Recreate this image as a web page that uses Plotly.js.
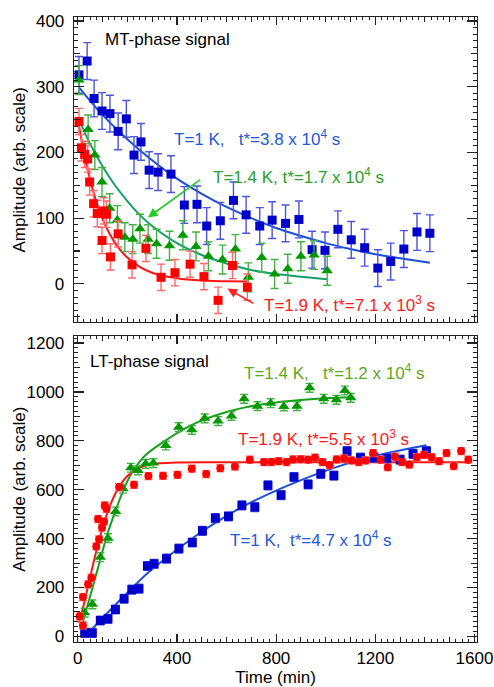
<!DOCTYPE html>
<html>
<head>
<meta charset="utf-8">
<script src="https://cdn.plot.ly/plotly-3.0.1.min.js"></script>
<style>html,body{margin:0;padding:0;background:#fff;}#chart{width:494px;height:687px;}</style>
</head>
<body>
<div id="chart"></div>
<script>
// ---------- DATA ----------
// Top panel: MT-phase signal (time in min, amplitude arb.)
const mtBlueT = [5,38,66,98,130,163,196,227,255,288,324,376,430,481,520,575,628,679,734,784,838,892,945,997,1049,1103,1157,1210,1262,1315,1368,1420];
const mtBlueA = [318,339,282,263,259,232,251,196,216,173,170,167,120,121,88,96,127,105,88,97,92,98,52,51,83,67,55,24,34,53,79,77];
const mtGreenT = [5,42,69,98,129,160,190,222,251,284,318,370,424,477,527,584,636,688,742,794,847,900,953,1006];
const mtGreenA = [310,235,196,155,115,97,71,68,84,68,61,58,74,57,42,37,53,10,40,15,23,42,44,20];
const mtRedT = [5,15,28,40,48,64,79,98,105,116,132,163,219,275,336,392,453,509,566,624,684];
const mtRedA = [247,207,197,190,155,122,107,66,111,106,41,76,29,54,10,17,30,11,-25,28,-5];

// Fit curves (top), sampled from the drawn lines
const mtBlueFitT = [5,100,200,300,400,500,600,700,800,900,1000,1100,1200,1300,1420];
const mtBlueFitA = [299,257,220,188,160,137,117,100,85,73,62,53,45,39,32];
const mtGreenFitT = [5,50,100,150,200,250,300,400,500,600,700,800,900,1006];
const mtGreenFitA = [250,213,179,150,126,105,88,62,44,31,21,15,11,7];
const mtRedFitT = [5,25,50,75,100,130,160,200,250,300,400,500,600,684];
const mtRedFitA = [241,200,158,125,99,75,57,40,26,17,8.5,5,4,3.5];

// Bottom panel: LT-phase signal
const ltBlueT = [28,59,91,122,152,187,218,247,281,308,358,408,462,503,555,608,662,714,767,820,872,929,980,1033,1086,1140,1195,1247,1300,1352,1406];
const ltBlueA = [14,14,65,72,110,154,191,195,288,297,318,359,384,432,484,491,536,529,618,578,652,622,665,658,758,731,731,729,723,747,758];
const ltGreenT = [28,59,91,122,153,183,214,243,274,305,355,407,460,512,566,620,671,725,778,831,884,935,992,1043,1077,1101];
const ltGreenA = [97,131,324,402,511,604,690,679,706,709,781,856,845,892,881,902,972,942,954,941,942,1017,972,968,1006,976];
const ltRedT = [8,21,21,42,55,75,82,86,98,106,109,116,167,227,285,344,402,460,518,575,634,694,751,781,810,842,868,899,929,957,987,1016,1044,1074,1104,1133,1161,1191,1221,1250,1279,1308,1337,1367,1396,1427,1457,1487,1516,1546,1575];
const ltRedA = [82,45,161,213,240,368,480,397,445,470,536,522,611,620,656,657,661,686,664,688,695,723,713,713,717,713,724,725,723,731,713,701,724,728,720,713,720,750,723,692,735,713,703,733,743,733,717,750,697,758,723];

// Fit curves (bottom)
const ltBlueFitT = [45,100,187,281,358,503,653,868,1083,1250,1406];
const ltBlueFitA = [15,75,165,258,322,430,524,626,706,750,782];
const ltGreenFitT = [20,28,60,91,120,153,183,214,250,277,355,450,512,600,675,800,900,1000,1100];
const ltGreenFitA = [55,85,200,315,420,515,595,662,715,745,802,860,888,918,937,957,967,974,978];
const ltRedFitT = [5,20,40,60,80,100,130,160,200,250,300,400,600,1000,1580];
const ltRedFitA = [56,112,198,286,369,443,534,600,656,691,705,711,712,712,712];

// Error bar half-widths
const errMtBlue = 28, errMtGreen = 22, errMtRed = 20;
const errLtBlue = 18, errLtGreen = 18, errLtRed = 14;

// Tick labels
const xTickVals = [0,400,800,1200,1600];
const xTickLabels = ['0','400','800','1200','1600'];

// ---------- STYLE ----------
const FONT = 'Liberation Sans, Arial, Helvetica, sans-serif';
const C = {
  blueM:'#0000cc', blueE:'#4a55dc', blueL:'#1a4fd8', blueT:'#2458dc',
  greenM:'#009a00', greenE:'#45b045', greenLTop:'#14a06a', greenLBot:'#18a018', greenTTop:'#2c9e2c', greenTBot:'#5ea81c',
  redM:'#ff0000', redE:'#ff6a6a', redL:'#ff1414', redT:'#ff1a1a'
};

function fit(x,y,xa,ya,color){
  return {x:x,y:y,xaxis:xa,yaxis:ya,mode:'lines',line:{color:color,width:2,shape:'spline',smoothing:1},hoverinfo:'skip',showlegend:false};
}
function pts(x,y,xa,ya,sym,size,mc,ec,err){
  return {x:x,y:y,xaxis:xa,yaxis:ya,mode:'markers',marker:{symbol:sym,size:size,color:mc},
    error_y:{type:'constant',value:err,color:ec,thickness:1.4,width:4},showlegend:false};
}
function dummy(xa,ya){return {x:[0],y:[0],xaxis:xa,yaxis:ya,mode:'markers',marker:{opacity:0,size:1},hoverinfo:'skip',showlegend:false};}

const data = [
  fit(mtBlueFitT,mtBlueFitA,'x','y',C.blueL),
  fit(mtGreenFitT,mtGreenFitA,'x','y',C.greenLTop),
  fit(mtRedFitT,mtRedFitA,'x','y',C.redL),
  pts(mtBlueT,mtBlueA,'x','y','square',9,C.blueM,C.blueE,errMtBlue),
  pts(mtGreenT,mtGreenA,'x','y','triangle-up',10,C.greenM,C.greenE,errMtGreen),
  pts(mtRedT,mtRedA,'x','y','square',9,C.redM,C.redE,errMtRed),
  fit(ltBlueFitT,ltBlueFitA,'x2','y2',C.blueL),
  fit(ltGreenFitT,ltGreenFitA,'x2','y2',C.greenLBot),
  fit(ltRedFitT,ltRedFitA,'x2','y2',C.redL),
  pts(ltBlueT,ltBlueA,'x2','y2','square',9,C.blueM,C.blueE,errLtBlue),
  pts(ltGreenT,ltGreenA,'x2','y2','triangle-up',10,C.greenM,C.greenE,errLtGreen),
  pts(ltRedT,ltRedA,'x2','y2','circle',8,C.redM,C.redE,errLtRed),
  dummy('x3','y'), dummy('x','y3'), dummy('x4','y2'), dummy('x2','y4')
];

const AX = '#222';
const XR = [-15,1610];
function xax(extra){
  return Object.assign({range:XR,showline:true,linecolor:AX,linewidth:1.3,mirror:'ticks',ticks:'inside',
    ticklen:8,tickwidth:1.2,tickcolor:AX,tick0:0,dtick:400,showgrid:false,zeroline:false,
    minor:{dtick:25,tick0:0,ticks:'inside',ticklen:3,tickcolor:AX,tickwidth:1,showgrid:false},
    tickfont:{family:FONT,size:17,color:'#000'}},extra);
}
function yax(extra){
  return Object.assign({showline:true,linecolor:AX,linewidth:1.3,mirror:'ticks',ticks:'inside',
    ticklen:10,tickwidth:1.2,tickcolor:AX,showgrid:false,zeroline:false,
    tickfont:{family:FONT,size:17,color:'#000'},ticklabelstandoff:5},extra);
}
function medx(over,anchor){
  return {overlaying:over,anchor:anchor,range:XR,tick0:0,dtick:100,ticks:'inside',ticklen:5,tickwidth:1.1,tickcolor:AX,
    showticklabels:false,showline:false,mirror:'ticks',showgrid:false,zeroline:false};
}
function medy(over,anchor,range,dt){
  return {overlaying:over,anchor:anchor,range:range,tick0:0,dtick:dt,ticks:'inside',ticklen:6,tickwidth:1.1,tickcolor:AX,
    showticklabels:false,showline:false,mirror:'ticks',showgrid:false,zeroline:false};
}
const YR1 = [-58,406], YR2 = [-23,1229];

function txt(text,x,y,xr,yr,color){
  return {text:text,x:x,y:y,xref:xr,yref:yr,showarrow:false,font:{family:FONT,size:17,color:color},xanchor:'center',yanchor:'middle'};
}
function ytitle(yc){
  return {text:'Amplitude (arb. scale)',x:-0.134,y:yc,xref:'paper',yref:'paper',showarrow:false,textangle:-90,
    xanchor:'center',yanchor:'middle',font:{family:FONT,size:17,color:'#000'}};
}

const layout = {
  width:494,height:687,margin:{l:74,r:17,t:17,b:45},
  paper_bgcolor:'#fff',plot_bgcolor:'#fff',showlegend:false,
  font:{family:FONT,size:17,color:'#000'},
  xaxis: xax({anchor:'y',showticklabels:false}),
  yaxis: yax({anchor:'x',domain:[0.512,1],range:YR1,tick0:0,dtick:100,
    minor:{dtick:10,tick0:0,ticks:'inside',ticklen:4,tickcolor:AX,tickwidth:1,showgrid:false}}),
  xaxis2: xax({anchor:'y2',showticklabels:true,tickvals:xTickVals,ticktext:xTickLabels,ticklabelstandoff:0,
    title:{text:'Time (min)',font:{family:FONT,size:17,color:'#000'},standoff:4}}),
  yaxis2: yax({anchor:'x2',domain:[0,0.4896],range:YR2,tick0:0,dtick:200,
    minor:{dtick:20,tick0:0,ticks:'inside',ticklen:4,tickcolor:AX,tickwidth:1,showgrid:false}}),
  xaxis3: medx('x','y'),
  yaxis3: medy('y','x',YR1,50),
  xaxis4: medx('x2','y2'),
  yaxis4: medy('y2','x2',YR2,100),
  annotations:[
    ytitle(0.756), ytitle(0.245),
    txt('MT-phase signal',363,372,'x','y','#000'),
    txt('T=1 K,&nbsp;&nbsp;&nbsp;t*=3.8 x 10<sup>4</sup> s',724,222,'x','y',C.blueT),
    txt('T=1.4 K, t*=1.7 x 10<sup>4</sup> s',891,164,'x','y',C.greenTTop),
    txt('T=1.9 K, t*=7.1 x 10<sup>3</sup> s',1097,-30,'x','y',C.redT),
    {x:283,y:101,ax:499,ay:160,xref:'x',yref:'y',axref:'x',ayref:'y',text:'',showarrow:true,arrowhead:2,arrowsize:1.2,arrowwidth:1.6,arrowcolor:'#22cc22'},
    {x:604,y:-7,ax:714,ay:-31,xref:'x',yref:'y',axref:'x',ayref:'y',text:'',showarrow:true,arrowhead:2,arrowsize:1.2,arrowwidth:1.6,arrowcolor:'#ff2222'},
    txt('LT-phase signal',290,1126,'x2','y2','#000'),
    txt('T=1.4 K,&nbsp;&nbsp;&nbsp;t*=1.2 x 10<sup>4</sup> s',1036,1081,'x2','y2',C.greenTBot),
    txt('T=1.9 K, t*=5.5 x 10<sup>3</sup> s',992,810,'x2','y2',C.redT),
    txt('T=1 K,&nbsp;&nbsp;t*=4.7 x 10<sup>4</sup> s',940,397,'x2','y2',C.blueT)
  ]
};

Plotly.newPlot('chart',data,layout,{staticPlot:true,displayModeBar:false});
</script>
</body>
</html>
